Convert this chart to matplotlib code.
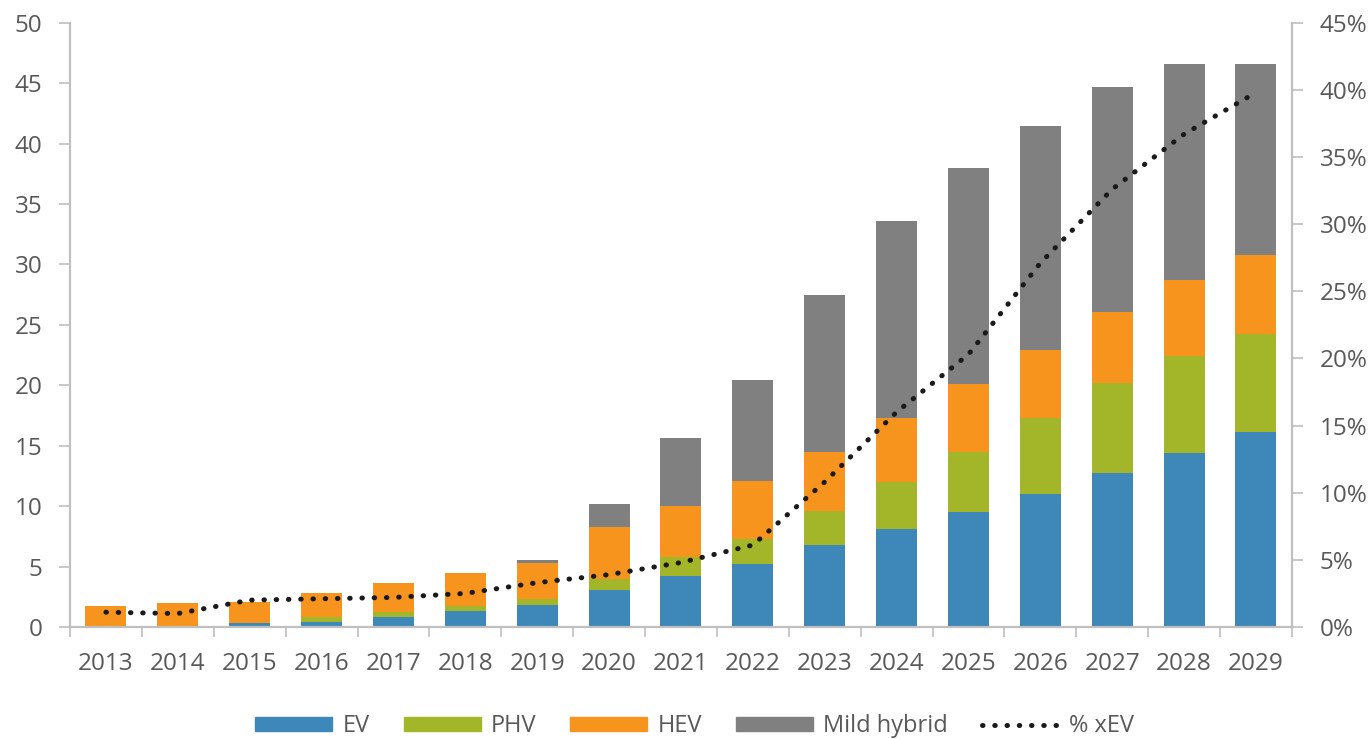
import numpy as np
import matplotlib.pyplot as plt
from matplotlib.patches import Patch
from matplotlib.lines import Line2D
from matplotlib.ticker import PercentFormatter

# --- Data ---
years = [str(y) for y in range(2013, 2030)]
ev = [0, 0, 0.3, 0.4, 0.8, 1.3, 1.8, 3.1, 4.2, 5.2, 6.8, 8.1, 9.5, 11.0, 12.7, 14.4, 16.1]
phv = [0, 0, 0.05, 0.45, 0.4, 0.45, 0.5, 0.9, 1.6, 2.1, 2.8, 3.9, 5.0, 6.3, 7.5, 8.0, 8.1]
hev = [1.7, 2.0, 1.7, 2.0, 2.4, 2.75, 3.0, 4.3, 4.25, 4.75, 4.85, 5.3, 5.6, 5.6, 5.9, 6.3, 6.6]
mild = [0, 0, 0, 0, 0, 0, 0.2, 1.85, 5.6, 8.35, 13.05, 16.25, 17.9, 18.55, 18.6, 17.85, 15.8]
pct_xev = [1.1, 1.0, 2.0, 2.1, 2.2, 2.5, 3.3, 3.9, 4.8, 6.1, 10.8, 16.0, 20.3, 27.1, 32.6, 36.7, 39.8]

# --- Style ---
COLORS = {'EV': '#3d88b8', 'PHV': '#a3b62a', 'HEV': '#f7941d', 'Mild hybrid': '#808080'}
TEXT = '#595959'
SPINE = '#bfbfbf'
plt.rcParams['font.family'] = ['Open Sans', 'DejaVu Sans']

fig = plt.figure(figsize=(13.7, 7.39), dpi=100)
fig.subplots_adjust(left=0.0511, right=0.943, bottom=0.1516, top=0.9693)
ax = fig.add_subplot(111)

x = np.arange(len(years))
width = 0.57
bottom = np.zeros(len(years))
for name, vals in [('EV', ev), ('PHV', phv), ('HEV', hev), ('Mild hybrid', mild)]:
    ax.bar(x, vals, width, bottom=bottom, color=COLORS[name], zorder=2)
    bottom += np.array(vals)

ax.set_xlim(-0.5, len(years) - 0.5)
ax.set_ylim(0, 50)
ax.set_yticks(range(0, 51, 5))
ax.set_xticks(x)
ax.set_xticklabels(years)
ax.set_xticks(np.arange(-0.5, len(years), 1), minor=True)
ax.tick_params(axis='x', which='major', length=0, pad=18, labelsize=17.5, labelcolor=TEXT)
ax.tick_params(axis='x', which='minor', length=7, width=1.2, color=SPINE)
ax.tick_params(axis='y', length=8, width=1.2, color=SPINE, pad=12, labelsize=17.5, labelcolor=TEXT)

# --- Secondary axis: % xEV ---
ax2 = ax.twinx()
ax2.set_ylim(0, 0.45)
ax2.set_yticks(np.arange(0, 0.451, 0.05))
ax2.yaxis.set_major_formatter(PercentFormatter(1.0, decimals=0))
ax2.tick_params(axis='y', length=8, width=1.2, color=SPINE, pad=12, labelsize=17.5, labelcolor=TEXT)
line_style = dict(color='#1a1a1a', linewidth=3.6, linestyle=(0, (0.1, 2.35)), dash_capstyle='round')
ax2.plot(x, np.array(pct_xev) / 100, zorder=3, **line_style)

for a in (ax, ax2):
    a.spines['top'].set_visible(False)
    for s in ('left', 'right', 'bottom'):
        a.spines[s].set_color(SPINE)
        a.spines[s].set_linewidth(1.5)

# --- Legend ---
handles = [Patch(color=COLORS[k]) for k in COLORS]
handles.append(Line2D([], [], **line_style))
labels = list(COLORS) + ['% xEV']
fig.legend(handles, labels, loc='center', bbox_to_anchor=(0.507, 0.017), ncol=5,
           frameon=False, fontsize=17, labelcolor=TEXT, handlelength=3.26,
           handleheight=0.55, handletextpad=0.42, columnspacing=1.45)

fig.savefig('out.png', dpi=100)
